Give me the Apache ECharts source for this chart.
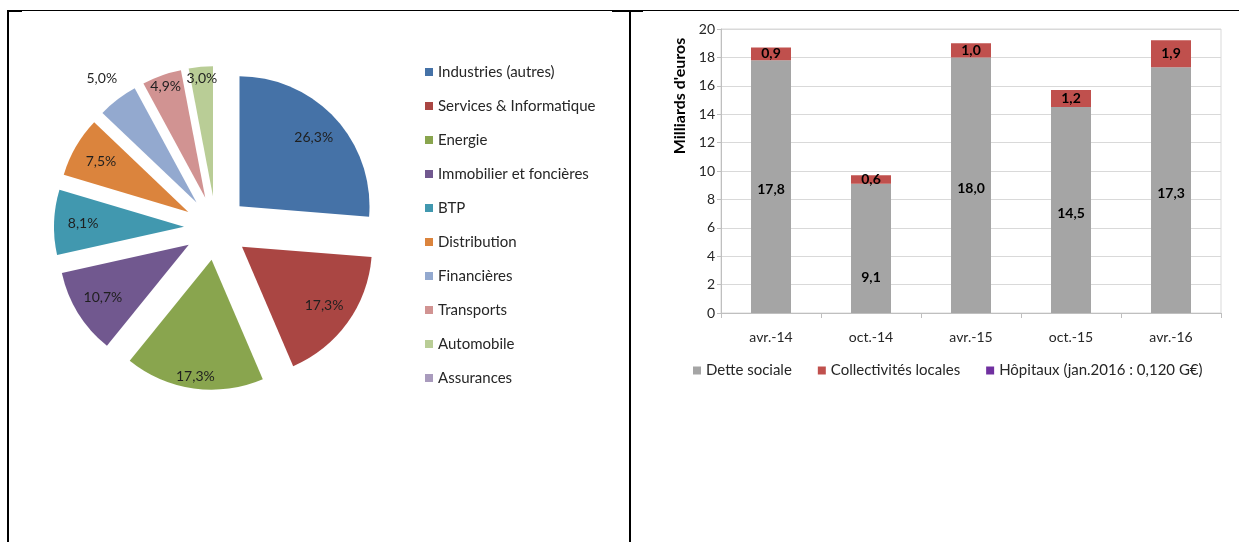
<!DOCTYPE html>
<html>
<head>
<meta charset="utf-8">
<script src="https://cdn.jsdelivr.net/npm/echarts@6/dist/echarts.min.js"></script>
<style>
html,body{margin:0;padding:0;background:#fff;}
#c{width:1239px;height:542px;}
</style>
</head>
<body>
<div id="c"></div>
<script>
// ---- Pie data ----
var sectors = ['Industries (autres)', 'Services & Informatique', 'Energie', 'Immobilier et foncières', 'BTP', 'Distribution', 'Financières', 'Transports', 'Automobile', 'Assurances'];
var shares = [26.3, 17.3, 17.3, 10.7, 8.1, 7.5, 5.0, 4.9, 3.0, 0];
var sectorColors = ['#4572A7', '#AA4643', '#89A54E', '#71588F', '#4198AF', '#DB843D', '#93A9CF', '#D19392', '#B9CD96', '#A99BBD'];

// ---- Bar data ----
var periods = ['avr.-14', 'oct.-14', 'avr.-15', 'oct.-15', 'avr.-16'];
var detteSociale = [17.8, 9.1, 18.0, 14.5, 17.3];
var collectivites = [0.9, 0.6, 1.0, 1.2, 1.9];
var hopitaux = [null, null, null, null, null];
var yTicks = [0, 2, 4, 6, 8, 10, 12, 14, 16, 18, 20];

function fr(v, d) { return v.toFixed(d).replace('.', ','); }

var FONT = 'Lato, Carlito, "Liberation Sans", sans-serif';
var pieCenter = [216, 228];
var R = 130;
var OFF = 32;

function pieData(showSet) {
  return sectors.map(function (n, i) {
    return {
      name: n, value: shares[i], selected: true,
      label: { show: showSet ? showSet.indexOf(i) >= 0 : false }
    };
  });
}

function labelPie(radius, showSet) {
  return {
    type: 'pie', center: pieCenter, radius: radius, startAngle: 90,
    selectedMode: 'multiple', selectedOffset: OFF, silent: true,
    avoidLabelOverlap: false,
    itemStyle: { color: 'rgba(0,0,0,0)' },
    emphasis: { disabled: true },
    labelLayout: { hideOverlap: false },
    label: {
      position: 'inside', color: '#1f1f1f', fontSize: 14, fontFamily: FONT,
      formatter: function (p) { return fr(p.value, 1) + '%'; }
    },
    labelLine: { show: false },
    data: pieData(showSet), z: 3
  };
}

// the label of the short oct.-14 bar sits lower in the original
var detteData = detteSociale.map(function (v, i) {
  return i === 1 ? { value: v, label: { offset: [0, 29] } } : v;
});

var chart = echarts.init(document.getElementById('c'));
chart.setOption({
  animation: false,
  backgroundColor: '#ffffff',
  color: sectorColors,
  legend: [{
    data: sectors, orient: 'vertical', left: 420, top: 59,
    icon: 'rect', itemWidth: 8, itemHeight: 8, itemGap: 18,
    selectedMode: false,
    textStyle: { fontFamily: FONT, fontSize: 15, color: '#262626', lineHeight: 16 }
  }, {
    data: ['Dette sociale', 'Collectivités locales', 'Hôpitaux (jan.2016 : 0,120 G€)'],
    orient: 'horizontal', left: 688, top: 358,
    icon: 'rect', itemWidth: 8, itemHeight: 8, itemGap: 26,
    selectedMode: false,
    textStyle: { fontFamily: FONT, fontSize: 15, color: '#262626' }
  }],
  grid: { left: 721, right: 18, top: 29, bottom: 229, show: true, borderColor: '#d9d9d9', borderWidth: 1 },
  xAxis: {
    type: 'category', data: periods,
    axisLine: { lineStyle: { color: '#bfbfbf' } },
    axisTick: { show: true, length: 5, lineStyle: { color: '#bfbfbf' } },
    axisLabel: { fontFamily: FONT, fontSize: 14, color: '#262626', margin: 17 }
  },
  yAxis: {
    type: 'value', min: 0, max: 20, interval: 2,
    name: "Milliards d'euros", nameLocation: 'middle', nameGap: 33,
    nameTextStyle: { fontFamily: FONT, fontSize: 16, fontWeight: 'bold', color: '#000', padding: [0, 0, 0, 150] },
    axisLine: { show: true, lineStyle: { color: '#bfbfbf' } },
    axisTick: { show: true, length: 4, lineStyle: { color: '#bfbfbf' } },
    splitLine: { lineStyle: { color: '#d9d9d9' } },
    axisLabel: {
      fontFamily: FONT, fontSize: 14, color: '#262626', margin: 6,
      formatter: function (v) { return yTicks.indexOf(v) >= 0 ? String(v) : ''; }
    }
  },
  series: [{
    type: 'pie', center: pieCenter, radius: [0, R], startAngle: 90,
    selectedMode: 'multiple', selectedOffset: OFF, silent: true,
    label: { show: false }, labelLine: { show: false },
    emphasis: { disabled: true },
    data: pieData(null), z: 2
  },
    labelPie([66, R], [0, 1, 3, 4, 5]),
    labelPie([100, R], [2, 7, 8]),
    labelPie([R, 176], [6]),
  {
    name: 'Dette sociale', type: 'bar', stack: 'tot', barWidth: '40%',
    itemStyle: { color: '#A5A5A5' }, data: detteData,
    label: { show: true, position: 'inside', fontFamily: FONT, fontSize: 14, fontWeight: 'bold', color: '#000',
      offset: [0, 3],
      formatter: function (p) { return fr(p.value, 1); } }
  }, {
    name: 'Collectivités locales', type: 'bar', stack: 'tot', barWidth: '40%',
    itemStyle: { color: '#C0504D' }, data: collectivites,
    label: { show: true, position: 'inside', fontFamily: FONT, fontSize: 14, fontWeight: 'bold', color: '#000',
      formatter: function (p) { return fr(p.value, 1); } }
  }, {
    name: 'Hôpitaux (jan.2016 : 0,120 G€)', type: 'bar', stack: 'tot', barWidth: '40%',
    itemStyle: { color: '#7030A0' }, data: hopitaux
  }],
  graphic: [
    { type: 'line', shape: { x1: 7, y1: 10.5, x2: 1239, y2: 10.5 }, style: { stroke: '#000', lineWidth: 1 } },
    { type: 'line', shape: { x1: 7, y1: 11, x2: 22, y2: 11 }, style: { stroke: '#000', lineWidth: 2 } },
    { type: 'line', shape: { x1: 612, y1: 11, x2: 643, y2: 11 }, style: { stroke: '#000', lineWidth: 2 } },
    { type: 'line', shape: { x1: 8, y1: 10, x2: 8, y2: 542 }, style: { stroke: '#000', lineWidth: 2 } },
    { type: 'line', shape: { x1: 630, y1: 10, x2: 630, y2: 542 }, style: { stroke: '#000', lineWidth: 2 } }
  ]
});
</script>
</body>
</html>
